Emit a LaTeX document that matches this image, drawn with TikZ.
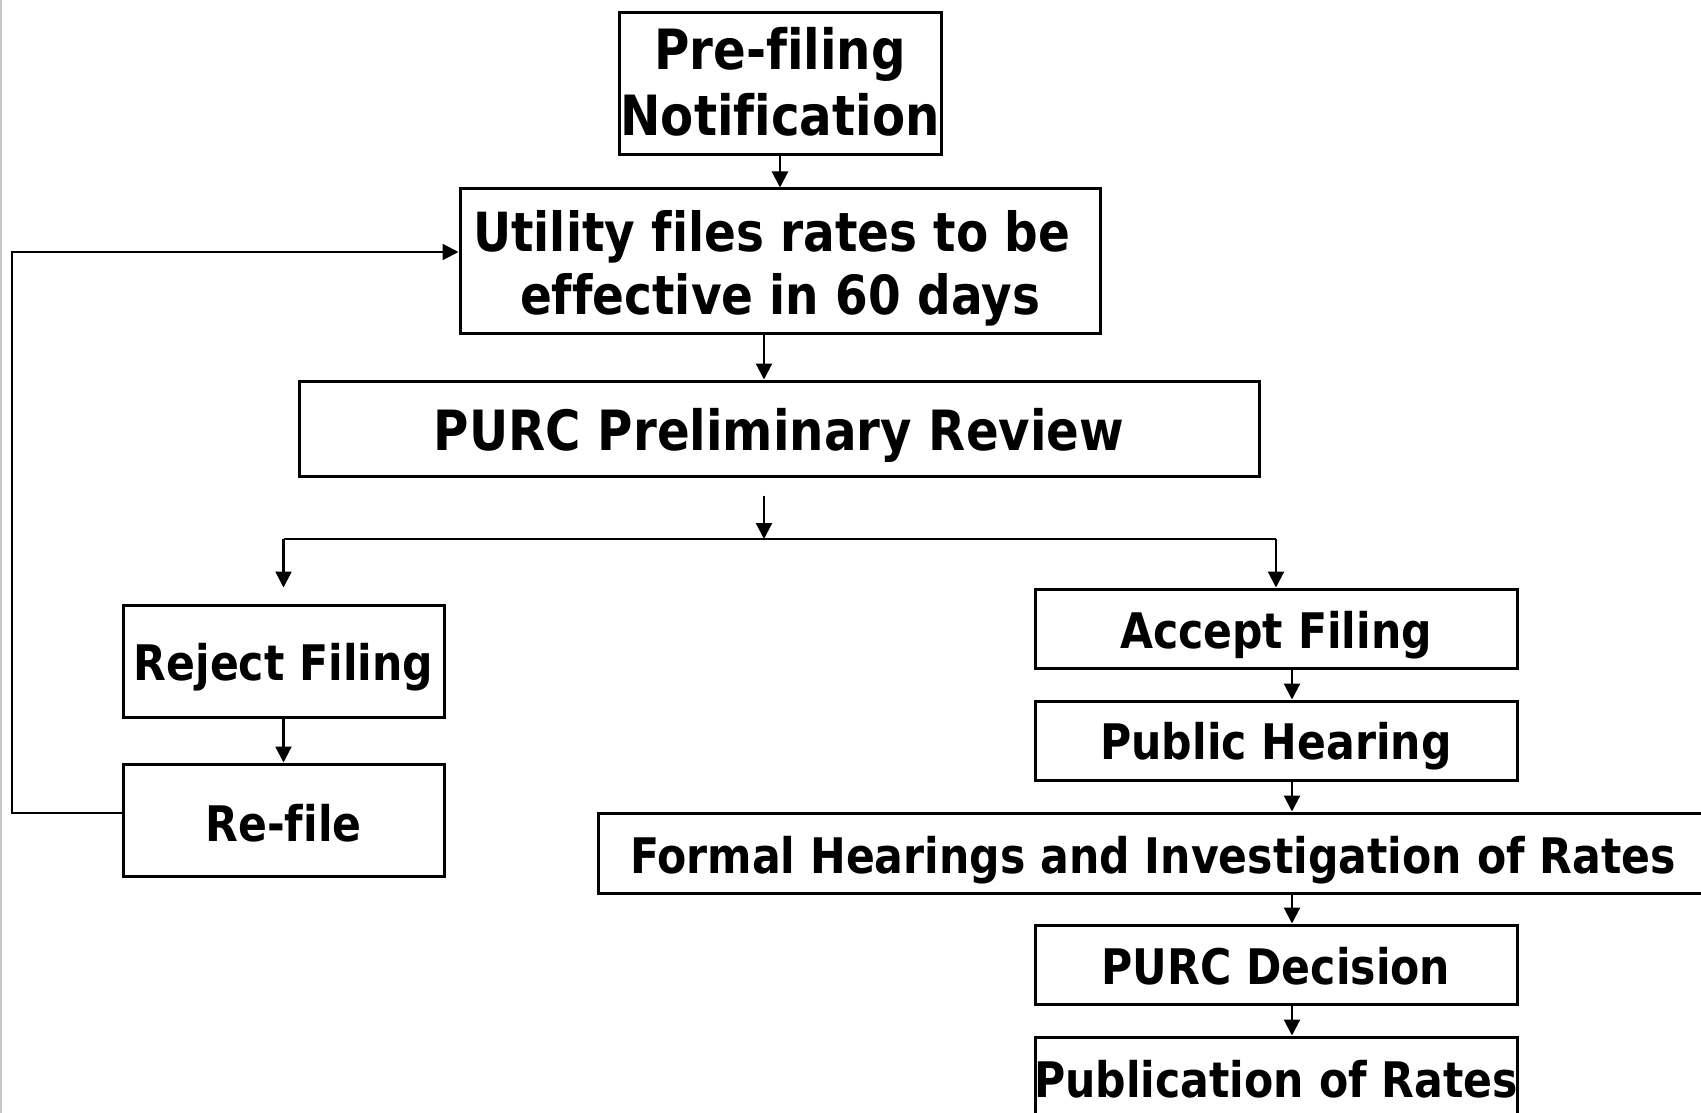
\documentclass[tikz,border=0pt]{standalone}
\usepackage{fontspec}
\newfontfamily\boxfont[FakeStretch=0.87,Ligatures={NoCommon}]{DejaVu Sans Bold}
\usetikzlibrary{arrows.meta}
% one line of text, centred, its baseline #1 pt below the node centre
\newcommand\tl[2]{\raisebox{-#1pt}[0pt][0pt]{\makebox[0pt]{#2}}}
\begin{document}
\begin{tikzpicture}[x=1pt,y=-1pt,
  box/.style={draw=black,line width=3pt,fill=white,inner sep=0pt,
    font=\boxfont\fontsize{49}{60}\selectfont},
  bigbox/.style={box,font=\boxfont\fontsize{55.5}{64}\selectfont},
  arr/.style={line width=2.2pt,-{Triangle[length=16pt,width=16pt]}},
  ln/.style={line width=2.2pt}]
\useasboundingbox (0,0) rectangle (1701,1113);
\clip (0,0) rectangle (1701,1113);
\fill[white] (0,0) rectangle (1701,1113);
\draw[line width=1.5pt,black!22] (1,0) -- (1,1113);
\node[bigbox,minimum width=322pt,minimum height=142pt] (pre) at (780,84)
  {\tl{-14}{Pre-filing}\tl{52}{Notification}};
\node[bigbox,minimum width=640pt,minimum height=144pt,font=\boxfont\fontsize{54}{64}\selectfont] (util) at (780,261)
  {\tl{-10}{Utility files rates to be\ }\tl{53}{effective in 60 days}};
\node[bigbox,minimum width=960pt,minimum height=95pt] (prel) at (779,428.5)
  {\tl{22}{PURC Preliminary Review}};
\node[box,minimum width=321pt,minimum height=112pt] (rej) at (283.5,661)
  {\tl{19}{Reject Filing}};
\node[box,minimum width=321pt,minimum height=112pt] (refile) at (283.5,820)
  {\tl{21}{Re-file}};
\node[box,minimum width=482pt,minimum height=79pt] (acc) at (1276,628.5)
  {\tl{19.5}{Accept Filing}};
\node[box,minimum width=482pt,minimum height=79pt] (pub) at (1276,740.5)
  {\tl{19}{Public Hearing}};
\node[box,minimum width=1110pt,minimum height=80pt] (formal) at (1153,853)
  {\tl{20}{Formal Hearings and Investigation of Rates}};
\node[box,minimum width=482pt,minimum height=79pt] (dec) at (1276,964.5)
  {\tl{19.5}{PURC Decision}};
\node[box,minimum width=482pt,minimum height=80pt] (publ) at (1276,1077)
  {\tl{20}{Publication of Rates}};
% connectors
\coordinate (ca) at (780,0);
\coordinate (cb) at (764,0);
\coordinate (cr) at (1292,0);
\coordinate (split) at (764,539);
\coordinate (sl) at (283.5,539);
\coordinate (sr) at (1276,539);
\coordinate (lp) at (12,0);
\draw[arr] (pre.south -| ca) -- (util.north -| ca);
\draw[arr] (util.south -| cb) -- (prel.north -| cb);
\draw[arr] ([yshift=-18pt]prel.south -| cb) -- (split);
\draw[ln] (sl) -- (sr);
\draw[arr] (sl) -- ([yshift=16pt]rej.north);
\draw[arr] (sr) -- (acc.north);
\draw[arr] (rej) -- (refile);
\draw[arr] ([yshift=7pt]refile.west) -| ([yshift=9pt]lp |- util.west) -- ([yshift=9pt]util.west);
\draw[arr] (acc.south -| cr) -- (pub.north -| cr);
\draw[arr] (pub.south -| cr) -- (formal.north -| cr);
\draw[arr] (formal.south -| cr) -- (dec.north -| cr);
\draw[arr] (dec.south -| cr) -- (publ.north -| cr);
\end{tikzpicture}
\end{document}
